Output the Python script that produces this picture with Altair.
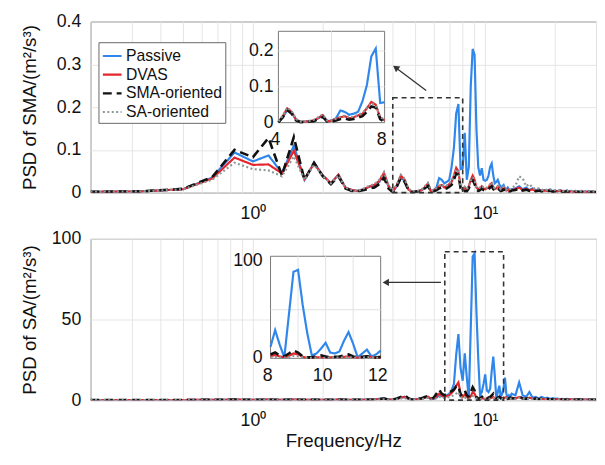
import altair as alt
import pandas as pd

# ---------------- data ----------------
FREQ = [0.2, 0.333, 0.5, 0.667, 0.833, 1.0, 1.167, 1.333, 1.5, 1.667, 1.833, 2.0,
        2.167, 2.333, 2.5, 2.667, 2.833, 3.0, 3.167, 3.333, 3.5, 3.667, 3.833, 4.0,
        4.167, 4.333, 4.5, 4.667, 4.833, 5.0, 5.167, 5.333, 5.5, 5.667, 5.833, 6.0,
        6.167, 6.333, 6.5, 6.667, 6.833, 7.0, 7.167, 7.333, 7.5, 7.667, 7.833, 8.0,
        8.167, 8.333, 8.5, 8.667, 8.833, 9.0, 9.167, 9.333, 9.5, 9.667, 9.833, 10.0,
        10.167, 10.333, 10.5, 10.667, 10.833, 11.0, 11.167, 11.333, 11.5, 11.667, 11.833, 12.0,
        12.167, 12.333, 12.5, 12.667, 12.833, 13.0,
        13.5, 14.0, 14.5, 15.0, 15.5, 16.0, 16.5, 17.0, 17.5, 18.0, 18.5, 19.0, 19.5, 20.0, 20.5, 21.0, 21.5,
        22.0, 22.5, 23.0, 23.5, 24.0, 24.5, 25.0, 25.5, 26.0, 26.5, 27.0, 27.5, 28.0, 28.5, 29.0, 29.5, 30.0]

SMA_PASSIVE = [0.002, 0.003, 0.008, 0.035, 0.094, 0.073, 0.087, 0.046, 0.110, 0.030, 0.070, 0.040,
               0.022, 0.042, 0.012, 0.006, 0.004, 0.008, 0.014, 0.017, 0.025, 0.042, 0.015, 0.002,
               0.015, 0.035, 0.028, 0.008, 0.002, 0.003, 0.004, 0.006, 0.012, 0.020, 0.004, 0.006,
               0.012, 0.034, 0.030, 0.022, 0.025, 0.030, 0.060, 0.105, 0.185, 0.207, 0.055, 0.057,
               0.140, 0.030, 0.060, 0.250, 0.336, 0.322, 0.150, 0.060, 0.040, 0.057, 0.030, 0.028,
               0.030, 0.040, 0.060, 0.068, 0.040, 0.022, 0.025, 0.030, 0.020, 0.012, 0.015, 0.018,
               0.010, 0.008, 0.012, 0.006, 0.005, 0.008,
               0.010, 0.015, 0.008, 0.012, 0.006, 0.010, 0.005, 0.008, 0.004, 0.006, 0.005, 0.007, 0.004, 0.005, 0.003, 0.006, 0.004,
               0.003, 0.005, 0.003, 0.004, 0.002, 0.004, 0.003, 0.002, 0.004, 0.002, 0.003, 0.002, 0.003, 0.002, 0.003, 0.002, 0.002]

SMA_DVAS = [0.002, 0.003, 0.008, 0.033, 0.082, 0.065, 0.066, 0.045, 0.098, 0.032, 0.068, 0.040,
            0.022, 0.042, 0.012, 0.006, 0.004, 0.008, 0.014, 0.018, 0.028, 0.046, 0.016, 0.002,
            0.018, 0.040, 0.030, 0.008, 0.002, 0.003, 0.004, 0.006, 0.013, 0.021, 0.004, 0.005,
            0.010, 0.015, 0.018, 0.012, 0.015, 0.020, 0.025, 0.040, 0.058, 0.050, 0.014, 0.006,
            0.012, 0.006, 0.015, 0.030, 0.040, 0.030, 0.012, 0.008, 0.010, 0.015, 0.010, 0.008,
            0.010, 0.012, 0.018, 0.022, 0.012, 0.008, 0.010, 0.014, 0.010, 0.006, 0.008, 0.012,
            0.006, 0.005, 0.008, 0.004, 0.004, 0.006,
            0.008, 0.012, 0.006, 0.009, 0.005, 0.008, 0.004, 0.006, 0.004, 0.005, 0.004, 0.006, 0.003, 0.004, 0.003, 0.005, 0.003,
            0.003, 0.004, 0.002, 0.003, 0.002, 0.003, 0.002, 0.002, 0.003, 0.002, 0.002, 0.002, 0.002, 0.002, 0.002, 0.002, 0.002]

SMA_SMAOR = [0.002, 0.003, 0.009, 0.036, 0.100, 0.083, 0.128, 0.040, 0.130, 0.030, 0.070, 0.038,
             0.020, 0.038, 0.010, 0.004, 0.003, 0.006, 0.010, 0.012, 0.020, 0.035, 0.010, 0.001,
             0.015, 0.035, 0.025, 0.006, 0.001, 0.002, 0.003, 0.004, 0.010, 0.016, 0.003, 0.003,
             0.006, 0.010, 0.012, 0.008, 0.010, 0.014, 0.018, 0.030, 0.045, 0.042, 0.010, 0.002,
             0.004, 0.003, 0.010, 0.022, 0.030, 0.020, 0.008, 0.004, 0.006, 0.010, 0.006, 0.005,
             0.006, 0.008, 0.012, 0.015, 0.008, 0.005, 0.006, 0.010, 0.007, 0.004, 0.005, 0.008,
             0.004, 0.004, 0.006, 0.003, 0.003, 0.005,
             0.006, 0.010, 0.005, 0.007, 0.004, 0.006, 0.003, 0.005, 0.003, 0.004, 0.003, 0.005, 0.002, 0.003, 0.002, 0.004, 0.002,
             0.002, 0.003, 0.002, 0.002, 0.001, 0.002, 0.002, 0.001, 0.002, 0.001, 0.002, 0.001, 0.002, 0.001, 0.002, 0.001, 0.001]

SMA_SAOR = [0.002, 0.003, 0.008, 0.030, 0.070, 0.055, 0.052, 0.038, 0.085, 0.030, 0.065, 0.038,
            0.022, 0.040, 0.012, 0.006, 0.004, 0.010, 0.016, 0.020, 0.030, 0.048, 0.018, 0.004,
            0.020, 0.042, 0.032, 0.010, 0.003, 0.004, 0.005, 0.008, 0.015, 0.023, 0.006, 0.006,
            0.011, 0.016, 0.020, 0.014, 0.017, 0.022, 0.027, 0.042, 0.055, 0.048, 0.016, 0.008,
            0.014, 0.008, 0.016, 0.028, 0.036, 0.028, 0.014, 0.010, 0.012, 0.016, 0.012, 0.010,
            0.012, 0.014, 0.020, 0.024, 0.014, 0.010, 0.012, 0.016, 0.012, 0.008, 0.010, 0.014,
            0.008, 0.007, 0.010, 0.008, 0.009, 0.012,
            0.016, 0.038, 0.034, 0.015, 0.020, 0.012, 0.008, 0.010, 0.006, 0.008, 0.006, 0.008, 0.005, 0.006, 0.004, 0.006, 0.004,
            0.004, 0.005, 0.003, 0.004, 0.003, 0.004, 0.003, 0.003, 0.004, 0.002, 0.003, 0.002, 0.003, 0.002, 0.003, 0.002, 0.002]

SA_PASSIVE = [0.1, 0.1, 0.1, 0.2, 0.3, 0.2, 0.3, 0.2, 0.4, 0.2, 0.3, 0.2,
              0.2, 0.3, 0.2, 0.2, 0.2, 0.3, 0.4, 0.5, 0.8, 1.0, 0.5, 0.3,
              0.8, 1.5, 2.0, 0.8, 0.3, 0.5, 0.8, 1.0, 1.5, 2.0, 0.6, 0.8,
              1.5, 3.0, 2.5, 2.0, 3.0, 4.0, 6.0, 10.0, 28.0, 41.0, 20.0, 12.0,
              29.0, 14.0, 1.0, 45.0, 89.0, 91.0, 55.0, 26.0, 3.0, 5.0, 10.0, 16.0,
              6.0, 5.0, 7.0, 18.0, 27.0, 15.0, 1.0, 5.0, 9.0, 2.0, 4.0, 8.0,
              14.0, 4.0, 1.0, 3.0, 2.0, 4.0,
              3.0, 11.0, 3.0, 2.0, 5.0, 1.5, 2.0, 1.0, 2.0, 1.0, 1.5, 0.8, 1.2, 0.8, 1.0, 0.6, 0.8,
              0.5, 0.8, 0.5, 0.7, 0.4, 0.6, 0.4, 0.5, 0.4, 0.5, 0.3, 0.4, 0.3, 0.4, 0.3, 0.3, 0.3]

SA_DVAS = [0.1, 0.1, 0.1, 0.2, 0.3, 0.2, 0.3, 0.2, 0.3, 0.2, 0.2, 0.2,
           0.2, 0.3, 0.2, 0.2, 0.2, 0.2, 0.3, 0.4, 0.6, 0.8, 0.4, 0.3,
           0.8, 1.5, 2.0, 1.0, 0.3, 0.4, 0.6, 1.0, 1.6, 2.2, 0.8, 1.0,
           2.0, 4.0, 3.0, 2.0, 2.5, 3.0, 4.5, 6.0, 9.0, 11.0, 4.0, 2.0,
           3.5, 2.0, 1.0, 2.5, 5.0, 4.0, 1.5, 0.5, 0.8, 1.2, 1.0, 0.8,
           1.0, 1.5, 1.2, 1.5, 2.0, 1.0, 0.8, 1.2, 2.0, 1.5, 0.8, 1.0,
           1.5, 1.8, 1.0, 0.8, 1.2, 1.5,
           1.0, 2.0, 1.2, 0.8, 1.5, 0.8, 1.0, 0.6, 0.9, 0.5, 0.8, 0.5, 0.7, 0.4, 0.6, 0.4, 0.5,
           0.4, 0.5, 0.3, 0.5, 0.3, 0.4, 0.3, 0.4, 0.3, 0.3, 0.3, 0.3, 0.2, 0.3, 0.2, 0.3, 0.2]

SA_SMAOR = [0.1, 0.1, 0.1, 0.2, 0.3, 0.2, 0.3, 0.2, 0.3, 0.2, 0.2, 0.2,
            0.2, 0.3, 0.2, 0.2, 0.2, 0.2, 0.3, 0.4, 0.6, 1.0, 0.4, 0.3,
            1.0, 2.0, 3.0, 1.2, 0.3, 0.5, 0.8, 1.2, 2.0, 2.6, 0.8, 1.5,
            4.0, 6.5, 4.0, 3.0, 4.0, 5.0, 5.5, 6.5, 8.5, 9.0, 3.0, 4.0,
            6.0, 3.0, 2.0, 5.0, 8.0, 6.0, 2.0, 1.0, 1.0, 2.0, 3.0, 2.0,
            1.0, 1.5, 2.0, 3.0, 4.0, 2.0, 1.0, 1.5, 2.0, 1.2, 0.8, 1.5,
            2.0, 1.5, 1.0, 1.2, 1.5, 1.0,
            1.2, 2.2, 1.0, 0.8, 1.4, 0.7, 1.0, 0.6, 0.8, 0.5, 0.7, 0.5, 0.6, 0.4, 0.5, 0.4, 0.4,
            0.3, 0.4, 0.3, 0.4, 0.3, 0.3, 0.3, 0.3, 0.2, 0.3, 0.2, 0.3, 0.2, 0.2, 0.2, 0.2, 0.2]

SA_SAOR = [0.1, 0.1, 0.1, 0.1, 0.2, 0.2, 0.2, 0.2, 0.2, 0.2, 0.2, 0.2,
           0.2, 0.2, 0.2, 0.2, 0.2, 0.2, 0.2, 0.3, 0.4, 0.5, 0.3, 0.2,
           0.5, 1.0, 1.2, 0.6, 0.2, 0.3, 0.4, 0.6, 1.0, 1.4, 0.5, 0.6,
           1.2, 2.0, 1.8, 1.2, 1.5, 2.0, 2.5, 3.0, 4.0, 5.0, 2.0, 1.0,
           1.5, 1.0, 0.8, 1.2, 2.5, 2.0, 1.0, 0.5, 0.6, 0.8, 0.7, 0.6,
           0.8, 1.0, 0.8, 1.0, 1.2, 0.8, 0.6, 0.8, 1.2, 1.0, 0.6, 0.8,
           1.0, 1.2, 0.8, 0.6, 0.8, 1.0,
           0.8, 1.5, 1.0, 0.6, 1.0, 0.6, 0.8, 0.5, 0.7, 0.4, 0.6, 0.4, 0.5, 0.3, 0.5, 0.3, 0.4,
           0.3, 0.4, 0.3, 0.3, 0.2, 0.3, 0.2, 0.3, 0.2, 0.2, 0.2, 0.2, 0.2, 0.2, 0.2, 0.2, 0.2]

SERIES = ["Passive", "DVAS", "SMA-oriented", "SA-oriented"]
TOP_VALUES = [SMA_PASSIVE, SMA_DVAS, SMA_SMAOR, SMA_SAOR]
BOT_VALUES = [SA_PASSIVE, SA_DVAS, SA_SMAOR, SA_SAOR]

XTICKS = [0.2, 0.3, 0.4, 0.5, 0.6, 0.7, 0.8, 0.9, 1, 2, 3, 4, 5, 6, 7, 8, 9, 10, 20, 30]

# ---------------- styling ----------------
COLORS = ["#2f86eb", "#e4262c", "#111111", "#8a9898"]
DASHES = [[1, 0], [1, 0], [9, 5], [2, 2.5]]
WIDTHS = [2.2, 2.2, 2.6, 2.2]
FONT = "Liberation Sans"

W = 514
H1 = 174
H2 = 164

rows = []
for s, tv, bv in zip(SERIES, TOP_VALUES, BOT_VALUES):
    for f, a, b in zip(FREQ, tv, bv):
        rows.append({"freq": f, "series": s, "top": a, "bot": b})
df = pd.DataFrame(rows)

color_scale = alt.Scale(domain=SERIES, range=COLORS)
dash_scale = alt.Scale(domain=SERIES, range=DASHES)

legend_top = alt.Legend(title=None, orient="none", legendX=8, legendY=21,
                        fillColor="white", strokeColor="#666", padding=3,
                        labelFontSize=16, labelFont=FONT, labelColor="#111",
                        symbolType="stroke", symbolSize=361, symbolStrokeWidth=2.2,
                        rowPadding=0, labelOffset=3)

main_x_scale = alt.Scale(type="log", domain=[0.2, 30], nice=False)
label_expr = "datum.value == 1 ? '10⁰' : (datum.value == 10 ? '10¹' : '')"


def main_x(field, title):
    return alt.X(field, type="quantitative", scale=main_x_scale,
                 axis=alt.Axis(values=XTICKS, labelExpr=label_expr, grid=True,
                               gridColor="#e4e4e4", ticks=False, domain=False,
                               labelFontSize=18, labelPadding=12, labelColor="#111",
                               title=title, titleFontSize=19, titleFontWeight="normal",
                               titlePadding=2, titleColor="#111"))


def main_y(field, domain, values, fmt, title):
    return alt.Y(field, type="quantitative",
                 scale=alt.Scale(domain=domain, nice=False),
                 axis=alt.Axis(values=values, format=fmt, grid=True, gridColor="#e4e4e4",
                               ticks=False, domain=False, labelFontSize=18,
                               labelPadding=10, labelColor="#111",
                               minExtent=40, maxExtent=40,
                               title=title, titleFontSize=19, titleFontWeight="normal",
                               titlePadding=12, titleColor="#111"))


def series_lines(field, xenc, yenc, legend, lo=None, hi=None):
    layers = []
    for s, w in zip(SERIES, WIDTHS):
        c = alt.Chart(df).transform_filter(alt.datum.series == s)
        if lo is not None:
            c = c.transform_filter((alt.datum.freq >= lo - 0.001) & (alt.datum.freq <= hi + 0.001))
        layers.append(
            c.mark_line(strokeWidth=w, clip=True).encode(
                x=xenc("freq"), y=yenc(field),
                color=alt.Color("series:N", scale=color_scale, legend=legend),
                strokeDash=alt.StrokeDash("series:N", scale=dash_scale, legend=legend),
            )
        )
    return layers


def panel(field, ydomain, yvalues, yfmt, ytitle, xtitle, legend,
          box, arrow, arrow_angle, inset):
    mx = lambda f: main_x(f, xtitle)
    my = lambda f: main_y(f, ydomain, yvalues, yfmt, ytitle)

    box_df = pd.DataFrame([box])
    arr_df = pd.DataFrame([arrow])

    box_layer = alt.Chart(box_df).mark_rect(fillOpacity=0, stroke="#333", strokeWidth=1.6,
                                            strokeDash=[5, 4]).encode(
        x=mx("x0"), x2="x1", y=my("y0"), y2="y1")
    rule_layer = alt.Chart(arr_df).mark_rule(color="#333", strokeWidth=1.3).encode(
        x=mx("x0"), x2="x1", y=my("y0"), y2="y1")
    head_layer = alt.Chart(arr_df).mark_point(shape="triangle", filled=True, size=55,
                                              angle=arrow_angle, color="#333",
                                              opacity=1).encode(
        x=mx("x1"), y=my("y1"))

    main_group = alt.layer(*series_lines(field, mx, my, legend),
                           box_layer, rule_layer, head_layer)

    # inset with its own scales placed by pixel range
    ix_scale = alt.Scale(domain=inset["xdom"], range=inset["xrange"], nice=False, zero=False)
    iy_scale = alt.Scale(domain=inset["ydom"], range=inset["yrange"], nice=False, zero=False)
    ix = lambda f: alt.X(f, type="quantitative", scale=ix_scale, axis=None)
    iy = lambda f: alt.Y(f, type="quantitative", scale=iy_scale, axis=None)

    frame_df = pd.DataFrame([{"x0": inset["xdom"][0], "x1": inset["xdom"][1],
                              "y0": inset["ydom"][0], "y1": inset["ydom"][1]}])
    frame = alt.Chart(frame_df).mark_rect(fill="white", stroke="#777", strokeWidth=1).encode(
        x=ix("x0"), x2="x1", y=iy("y0"), y2="y1")

    vgrid = pd.DataFrame([{"x": v, "y0": inset["ydom"][0], "y1": inset["ydom"][1]}
                          for v in inset["vgrid"]])
    hgrid = pd.DataFrame([{"y": v, "x0": inset["xdom"][0], "x1": inset["xdom"][1]}
                          for v in inset["hgrid"]])
    vg = alt.Chart(vgrid).mark_rule(color="#e2e2e2", strokeWidth=1).encode(
        x=ix("x"), y=iy("y0"), y2="y1")
    hg = alt.Chart(hgrid).mark_rule(color="#e2e2e2", strokeWidth=1).encode(
        y=iy("y"), x=ix("x0"), x2="x1")

    ylab_df = pd.DataFrame([{"x": inset["xdom"][0], "y": v, "t": t}
                            for v, t in zip(inset["yticks"], inset["ylabels"])])
    xlab_df = pd.DataFrame([{"x": v, "y": inset["ydom"][0], "t": t}
                            for v, t in zip(inset["xticks"], inset["xlabels"])])
    ylab = alt.Chart(ylab_df).mark_text(align="right", baseline="middle", dx=inset["ydx"],
                                        fontSize=18, font=FONT, color="#111").encode(
        x=ix("x"), y=iy("y"), text="t:N")
    xlab = alt.Chart(xlab_df).mark_text(align="center", baseline="middle", dy=18, dx=-3,
                                        fontSize=18, font=FONT, color="#111").encode(
        x=ix("x"), y=iy("y"), text="t:N")

    inset_group = alt.layer(frame, vg, hg,
                            *series_lines(field, ix, iy, legend,
                                          inset["xdom"][0], inset["xdom"][1]),
                            ylab, xlab)

    return alt.layer(main_group, inset_group).resolve_scale(
        x="independent", y="independent").properties(width=W, height=(H1 if field == "top" else H2))


top_inset = {
    "xdom": [4, 8], "xrange": [191, 299],
    "ydom": [0, 0.255], "yrange": [round(0.591 * H1, 1), round(0.057 * H1, 1)],
    "vgrid": [6], "hgrid": [0.1, 0.2],
    "yticks": [0, 0.1, 0.2], "ylabels": ["0", "0.1", "0.2"], "ydx": -5,
    "xticks": [4, 8], "xlabels": ["4", "8"],
}
bot_inset = {
    "xdom": [8, 12], "xrange": [183, 295],
    "ydom": [0, 105], "yrange": [round(0.741 * H2, 1), round(0.108 * H2, 1)],
    "vgrid": [9, 10, 11], "hgrid": [50],
    "yticks": [0, 100], "ylabels": ["0", "100"], "ydx": -8,
    "xticks": [8, 10, 12], "xlabels": ["8", "10", "12"],
}

top = panel("top", [0, 0.4], [0, 0.1, 0.2, 0.3, 0.4], ".1~f", "PSD of SMA/(m²/s³)", None,
            legend_top,
            {"x0": 4.0, "x1": 8.0, "y0": 0, "y1": 0.222},
            {"x0": 5.57, "y0": 0.239, "x1": 4.15, "y1": 0.291}, 307,
            top_inset)

bottom = panel("bot", [0, 100], [0, 50, 100], "d", "PSD of SA/(m²/s³)", "Frequency/Hz",
               None,
               {"x0": 6.7, "x1": 12.0, "y0": 0, "y1": 92},
               {"x0": 6.45, "y0": 73, "x1": 3.77, "y1": 73}, 270,
               bot_inset)

chart = alt.vconcat(top, bottom, spacing=6).resolve_scale(
    color="independent", strokeDash="independent"
).resolve_legend(
    color="independent", strokeDash="independent"
).properties(
    padding={"left": 12, "right": 0, "top": 0, "bottom": 0}
).configure(font=FONT).configure_view(stroke="#666", strokeWidth=1)

chart.save("out.html", embed_options={"renderer": "svg", "actions": False})
